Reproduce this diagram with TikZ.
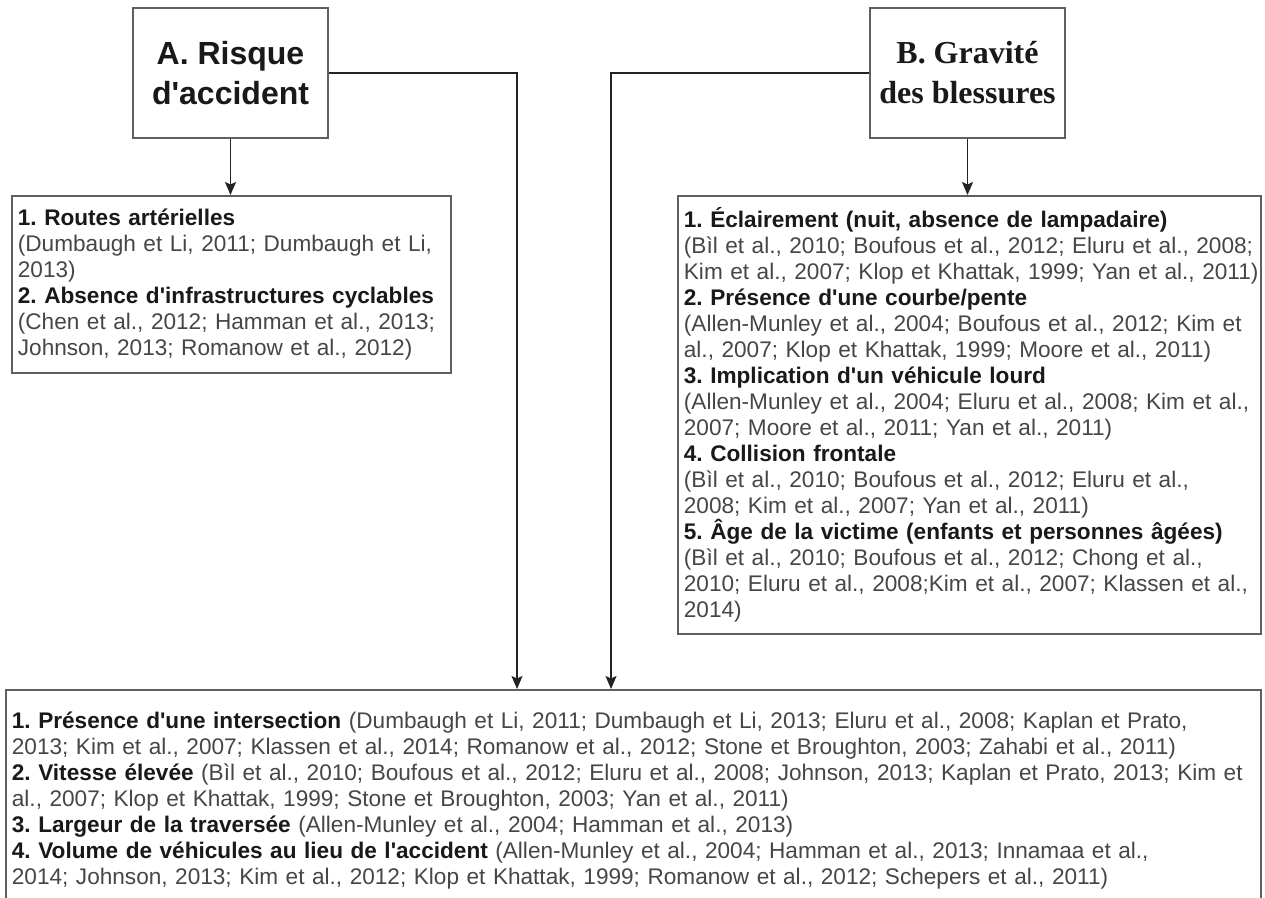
\documentclass[tikz,border=0pt]{standalone}
\usepackage{fontspec}
\setmainfont{Liberation Sans}
\newfontfamily\serifb{Liberation Serif}
\usetikzlibrary{arrows.meta}
\setlength{\parindent}{0pt}
\frenchspacing
\definecolor{boxc}{RGB}{95,95,95}
\definecolor{linec}{RGB}{35,35,35}
\definecolor{headc}{RGB}{25,25,25}
\definecolor{citec}{RGB}{70,70,70}
\newcommand{\qq}{\textquotesingle}
\newcommand{\hd}[1]{{\bfseries\color{headc}#1}}
\tikzset{
  titlebox/.style={draw=boxc, line width=1.8pt, fill=white, minimum width=195pt,
    minimum height=130pt, align=center, inner sep=0pt, text=headc},
  listbox/.style={draw=boxc, line width=1.8pt, fill=white, anchor=north west,
    align=left, inner xsep=6pt, inner ysep=0pt, text=citec,
    font=\fontsize{22.6}{26}\selectfont},
  conn/.style={draw=linec, line width=1.6pt, -{Stealth[length=13pt,width=11pt,inset=2.5pt]}},
}
\begin{document}
\begin{tikzpicture}[x=1pt,y=-1pt]
\useasboundingbox (0,0) rectangle (1265,897);
\clip (0,0) rectangle (1265,897);

% title boxes
\node[titlebox, font=\bfseries\fontsize{32}{40}\selectfont] (A) at (230.5,73)
  {\raisebox{-2pt}{A. Risque}\\\raisebox{-2pt}{d\qq accident}};
\node[titlebox, font=\serifb\bfseries\fontsize{32}{40}\selectfont] (B) at (967.5,73)
  {\raisebox{-2pt}{B. Gravité}\\\raisebox{-2pt}{des blessures}};

% left list
\node[listbox, minimum width=439pt, minimum height=177pt, text width=427pt] (L) at (11,195) {%
\mbox{\hd{1. Routes artérielles}}\\
\mbox{(Dumbaugh et Li, 2011; Dumbaugh et Li,}\\
\mbox{2013)}\\
\mbox{\hd{2. Absence d\qq infrastructures cyclables}}\\
\mbox{(Chen et al., 2012; Hamman et al., 2013;}\\
\mbox{Johnson, 2013; Romanow et al., 2012)}};

% right list
\node[listbox, minimum width=583pt, minimum height=438pt, text width=571pt] (R) at (677,195) {%
\mbox{\hd{1. Éclairement (nuit, absence de lampadaire)}}\\
\mbox{(Bìl et al., 2010; Boufous et al., 2012; Eluru et al., 2008;}\\
\mbox{Kim et al., 2007; Klop et Khattak, 1999; Yan et al., 2011)}\\
\mbox{\hd{2. Présence d\qq une courbe/pente}}\\
\mbox{(Allen-Munley et al., 2004; Boufous et al., 2012; Kim et}\\
\mbox{al., 2007; Klop et Khattak, 1999; Moore et al., 2011)}\\
\mbox{\hd{3. Implication d\qq un véhicule lourd}}\\
\mbox{(Allen-Munley et al., 2004; Eluru et al., 2008; Kim et al.,}\\
\mbox{2007; Moore et al., 2011; Yan et al., 2011)}\\
\mbox{\hd{4. Collision frontale}}\\
\mbox{(Bìl et al., 2010; Boufous et al., 2012; Eluru et al.,}\\
\mbox{2008; Kim et al., 2007; Yan et al., 2011)}\\
\mbox{\hd{5. Âge de la victime (enfants et personnes âgées)}}\\
\mbox{(Bìl et al., 2010; Boufous et al., 2012; Chong et al.,}\\
\mbox{2010; Eluru et al., 2008;Kim et al., 2007; Klassen et al.,}\\
\mbox{2014)}};

% bottom list
\node[listbox, minimum width=1255pt, minimum height=222pt, text width=1243pt] (C) at (5,689) {%
\mbox{\hd{1. Présence d\qq une intersection} (Dumbaugh et Li, 2011; Dumbaugh et Li, 2013; Eluru et al., 2008; Kaplan et Prato,}\\
\mbox{2013; Kim et al., 2007; Klassen et al., 2014; Romanow et al., 2012; Stone et Broughton, 2003; Zahabi et al., 2011)}\\
\mbox{\hd{2. Vitesse élevée} (Bìl et al., 2010; Boufous et al., 2012; Eluru et al., 2008; Johnson, 2013; Kaplan et Prato, 2013; Kim et}\\
\mbox{al., 2007; Klop et Khattak, 1999; Stone et Broughton, 2003; Yan et al., 2011)}\\
\mbox{\hd{3. Largeur de la traversée} (Allen-Munley et al., 2004; Hamman et al., 2013)}\\
\mbox{\hd{4. Volume de véhicules au lieu de l\qq accident} (Allen-Munley et al., 2004; Hamman et al., 2013; Innamaa et al.,}\\
\mbox{2014; Johnson, 2013; Kim et al., 2012; Klop et Khattak, 1999; Romanow et al., 2012; Schepers et al., 2011)}};

% connectors
\coordinate (ax) at (517,0);
\coordinate (bx) at (611,0);
\draw[conn] (A.south) -- (A.south |- L.north);
\draw[conn] (B.south) -- (B.south |- R.north);
\draw[conn] (A.east) -| (ax |- C.north);
\draw[conn] (B.west) -| (bx |- C.north);
\end{tikzpicture}
\end{document}
